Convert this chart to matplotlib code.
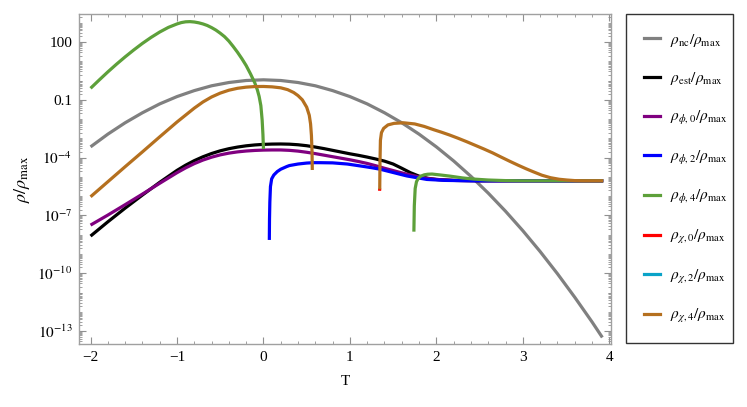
import numpy as np
import matplotlib
matplotlib.use('Agg')
import matplotlib.pyplot as plt
from matplotlib.ticker import LogLocator, NullFormatter, MultipleLocator

plt.rcParams['font.family'] = 'serif'
plt.rcParams['font.serif'] = ['Liberation Serif', 'STIXGeneral', 'DejaVu Serif']
plt.rcParams['mathtext.fontset'] = 'stix'
plt.rcParams['font.size'] = 11

# values: T and log10(rho/rho_max)
nc_T = [-2.0, -1.8, -1.6, -1.4, -1.2, -1.0, -0.8, -0.6, -0.4, -0.2, 0.0, 0.2, 0.4, 0.6, 0.8,
        1.0, 1.2, 1.4, 1.6, 1.8, 2.0, 2.2, 2.4, 2.6, 2.8, 3.0, 3.2, 3.4, 3.6, 3.8, 3.92]
nc_L = [-3.44, -2.78, -2.19, -1.67, -1.21, -0.83, -0.52, -0.27, -0.10, 0.005, 0.04, 0.005,
        -0.10, -0.27, -0.52, -0.83, -1.21, -1.67, -2.19, -2.78, -3.44, -4.17, -4.97, -5.84,
        -6.78, -7.79, -8.87, -10.02, -11.24, -12.52, -13.33]

est_T = [-2.0, -1.8, -1.6, -1.4, -1.2, -1.0, -0.9, -0.8, -0.7, -0.6, -0.5, -0.4, -0.3, -0.2,
         -0.1, 0.0, 0.1, 0.2, 0.3, 0.4, 0.5, 0.6, 0.7, 0.8, 0.9, 1.0, 1.1, 1.2, 1.3, 1.4, 1.5,
         1.6, 1.7, 1.8, 1.9, 2.0, 2.2, 2.5, 3.93]
est_L = [-8.07, -7.33, -6.62, -5.94, -5.28, -4.66, -4.39, -4.155, -3.955, -3.785, -3.645,
         -3.535, -3.45, -3.385, -3.34, -3.31, -3.295, -3.29, -3.30, -3.33, -3.38, -3.45, -3.53,
         -3.62, -3.71, -3.80, -3.88, -3.97, -4.07, -4.18, -4.33, -4.55, -4.78, -4.96, -5.07,
         -5.13, -5.18, -5.2, -5.2]

phi0_T = [-2.0, -1.8, -1.6, -1.4, -1.2, -1.0, -0.9, -0.8, -0.7, -0.6, -0.5, -0.4, -0.3, -0.2,
          -0.1, 0.0, 0.1, 0.2, 0.3, 0.4, 0.5, 0.6, 0.7, 0.8, 0.9, 1.0, 1.1, 1.2, 1.3, 1.4, 1.5,
          1.6, 1.7, 1.8, 1.9, 2.0, 2.2, 2.5, 3.93]
phi0_L = [-7.50, -6.98, -6.44, -5.89, -5.33, -4.78, -4.53, -4.31, -4.125, -3.975, -3.855,
          -3.765, -3.70, -3.655, -3.625, -3.607, -3.60, -3.60, -3.62, -3.66, -3.72, -3.79,
          -3.87, -3.95, -4.03, -4.11, -4.20, -4.30, -4.42, -4.55, -4.67, -4.79, -4.90, -5.0,
          -5.08, -5.13, -5.18, -5.2, -5.2]

phi2_T = [0.068, 0.07, 0.074, 0.081, 0.095, 0.12, 0.16, 0.2, 0.27, 0.3, 0.4, 0.5, 0.58, 0.65,
          0.8, 0.97, 1.15, 1.25, 1.35, 1.5, 1.66, 1.89, 2.1, 2.4, 3.93]
phi2_L = [-8.27, -7.2, -6.3, -5.5, -5.1, -4.9, -4.72, -4.6, -4.46, -4.41, -4.33, -4.28, -4.26,
          -4.26, -4.27, -4.33, -4.45, -4.52, -4.6, -4.77, -4.95, -5.13, -5.18, -5.2, -5.2]

phi4a_T = [-2.0, -1.9, -1.8, -1.7, -1.6, -1.5, -1.4, -1.3, -1.2, -1.1, -1.0, -0.95, -0.9,
           -0.85, -0.8, -0.75, -0.7, -0.65, -0.6, -0.55, -0.5, -0.45, -0.4, -0.35, -0.3, -0.25,
           -0.2, -0.15, -0.1, -0.07, -0.05, -0.03, -0.015, -0.006, 0.0]
phi4a_L = [-0.40, 0.03, 0.45, 0.85, 1.23, 1.59, 1.93, 2.24, 2.52, 2.76, 2.94, 3.01, 3.05, 3.06,
           3.04, 3.00, 2.94, 2.86, 2.75, 2.62, 2.46, 2.28, 2.05, 1.77, 1.47, 1.14, 0.78, 0.35,
           -0.12, -0.49, -0.82, -1.3, -2.05, -2.8, -3.55]
phi4b_T = [1.740, 1.745, 1.755, 1.77, 1.79, 1.82, 1.86, 1.9, 1.95, 2.05, 2.16, 2.3, 2.43, 2.6,
           2.8, 3.0, 3.93]
phi4b_L = [-7.84, -6.5, -5.6, -5.25, -5.08, -4.96, -4.89, -4.86, -4.85, -4.9, -4.96, -5.05,
           -5.11, -5.16, -5.19, -5.2, -5.2]

chi0_T = [1.343, 1.345]
chi0_L = [-5.72, -5.6]

chi2_T = []
chi2_L = []

chi4a_T = [-2.0, -1.8, -1.6, -1.4, -1.2, -1.0, -0.9, -0.8, -0.7, -0.6, -0.5, -0.4, -0.3, -0.2,
           -0.1, 0.0, 0.1, 0.2, 0.28, 0.35, 0.4, 0.45, 0.5, 0.53, 0.545, 0.555, 0.562, 0.565]
chi4a_L = [-6.03, -5.25, -4.47, -3.70, -2.92, -2.15, -1.79, -1.43, -1.11, -0.85, -0.65, -0.50,
           -0.40, -0.34, -0.31, -0.305, -0.325, -0.375, -0.47, -0.62, -0.78, -1.0, -1.38, -1.8,
           -2.25, -2.85, -3.7, -4.64]
chi4b_T = [1.345, 1.348, 1.353, 1.365, 1.39, 1.44, 1.51, 1.62, 1.75, 1.86, 1.97, 2.06, 2.15,
           2.25, 2.35, 2.45, 2.55, 2.65, 2.74, 2.85, 2.95, 3.04, 3.12, 3.22, 3.32, 3.42, 3.51,
           3.6, 3.7, 3.93]
chi4b_L = [-5.64, -4.2, -3.1, -2.7, -2.48, -2.3, -2.22, -2.19, -2.25, -2.38, -2.55, -2.68,
           -2.82, -2.99, -3.17, -3.36, -3.55, -3.75, -3.95, -4.19, -4.4, -4.58, -4.73, -4.91,
           -5.04, -5.12, -5.16, -5.19, -5.2, -5.2]

labels = [r'$\rho_{\rm nc}/\rho_{\rm max}$', r'$\rho_{\rm est}/\rho_{\rm max}$',
          r'$\rho_{\phi,0}/\rho_{\rm max}$', r'$\rho_{\phi,2}/\rho_{\rm max}$',
          r'$\rho_{\phi,4}/\rho_{\rm max}$', r'$\rho_{\chi,0}/\rho_{\rm max}$',
          r'$\rho_{\chi,2}/\rho_{\rm max}$', r'$\rho_{\chi,4}/\rho_{\rm max}$']
colors = ['#808080', '#000000', '#800080', '#0000ff', '#5da03a', '#ff0000', '#0aa3c8', '#b5701f']

ytick_pos = [1e2, 1e-1, 1e-4, 1e-7, 1e-10, 1e-13]
ytick_lab = ['100', '0.1', r'$10^{-4}$', r'$10^{-7}$', r'$10^{-10}$', r'$10^{-13}$']

series = [
    [(nc_T, nc_L)],
    [(est_T, est_L)],
    [(phi0_T, phi0_L)],
    [(phi2_T, phi2_L)],
    [(phi4a_T, phi4a_L), (phi4b_T, phi4b_L)],
    [(chi0_T, chi0_L)],
    [(chi2_T, chi2_L)],
    [(chi4a_T, chi4a_L), (chi4b_T, chi4b_L)],
]

fig = plt.figure(figsize=(7.47, 4.07), dpi=100)
ax = fig.add_axes([79.3 / 747, 1 - 344 / 407, (611 - 79.3) / 747, (344 - 14.3) / 407])

handles = []
for parts, c, lab in zip(series, colors, labels):
    for t, l in parts:
        ax.plot(t, 10.0 ** np.array(l, dtype=float), color=c, lw=2.3,
                solid_joinstyle='round', solid_capstyle='butt')
    handles.append(plt.Line2D([], [], color=c, lw=2.3, label=lab))

ax.set_yscale('log')
ax.set_xlim(-2.13, 4.02)
ax.set_ylim(10 ** -13.67, 10 ** 3.44)
ax.set_yticks(ytick_pos)
ax.set_yticklabels(ytick_lab)
ax.yaxis.set_minor_locator(LogLocator(base=10, subs=np.arange(1, 10), numticks=200))
ax.yaxis.set_minor_formatter(NullFormatter())
ax.xaxis.set_major_locator(MultipleLocator(1))
ax.xaxis.set_minor_locator(MultipleLocator(0.2))

for s in ax.spines.values():
    s.set_color('#a0a0a0')
    s.set_linewidth(1.0)
ax.tick_params(which='both', direction='in', top=True, right=True, color='#909090')
ax.tick_params(which='major', length=5, width=0.8, pad=5)
ax.tick_params(which='minor', length=2.5, width=0.6)

ax.set_xlabel('T', labelpad=8)
ax.set_ylabel(r'$\rho/\rho_{\rm max}$', labelpad=4, fontsize=13)

leg = fig.legend(handles=handles, loc='upper left',
                 bbox_to_anchor=(626 / 747, 1 - 14 / 407, 107 / 747, 0.0),
                 mode='expand', frameon=True, fancybox=False, edgecolor='black',
                 handlelength=1.1, handletextpad=0.6, labelspacing=1.42,
                 borderpad=1.15, borderaxespad=0)
leg.get_frame().set_linewidth(1.0)

fig.savefig('out.png', dpi=100)
